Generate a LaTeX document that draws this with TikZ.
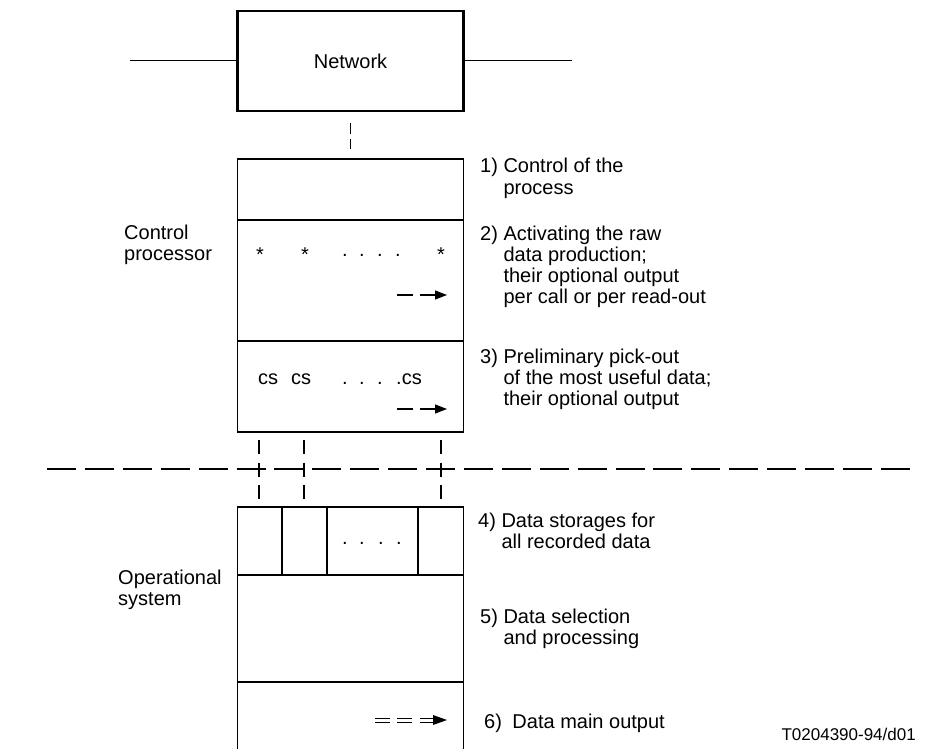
\documentclass[tikz,border=0pt]{standalone}
\usepackage{fontspec}
\setmainfont{Liberation Sans}
\usetikzlibrary{arrows.meta}
\begin{document}
\begin{tikzpicture}[x=1pt,y=-1pt,
  txt/.style={font=\fontsize{20}{21}\selectfont, inner sep=0pt, align=left, anchor=base west},
  glyph/.style={font=\fontsize{20}{21}\selectfont, inner sep=0pt, anchor=base},
  boxline/.style={line width=1.2pt},
  thinline/.style={line width=1pt},
  vdash/.style={line width=1.2pt, dash pattern=on 14pt off 8.5pt},
  sepline/.style={line width=2.8pt, dash pattern=on 29pt off 8.9pt},
  arr/.style={line width=1.2pt, -{Triangle[length=12pt,width=9pt]}},
]
\useasboundingbox (0,0) rectangle (927,749);

% Network
\node[draw, line width=2.4pt, minimum width=226pt, minimum height=100pt, inner sep=0pt,
      font=\fontsize{20}{21}\selectfont] (net) at (350.5,61) {Network};
\coordinate (nl) at (130,61);
\coordinate (nr) at (572,61);
\draw[thinline] (net.west) -- (nl);
\draw[thinline] (net.east) -- (nr);

% Control processor box
\node[draw, boxline, minimum width=226pt, minimum height=273pt, inner sep=0pt] (cp) at (350.5,295.5) {};
\draw[boxline] (237.5,220) -- (463.5,220);
\draw[boxline] (237.5,341) -- (463.5,341);
\draw[boxline, dash pattern=on 11pt off 5pt] ([yshift=-11pt]net.south) -- ([yshift=9pt]cp.north);

% stars and dots
\foreach \x in {260,305,441} \node[glyph] (s\x) at (\x,261) {*};
\foreach \x in {345,362,380,398} \node[glyph] (d\x) at (\x,256) {.};
\draw[boxline] (397,295) -- (413,295);
\draw[arr] (420,295) -- (447,295);

% cs line
\node[txt] (cs1) at (258,384) {cs};
\node[txt] (cs2) at (291,384) {cs};
\foreach \x in {345,362,380} \node[glyph] (e\x) at (\x,384) {.};
\node[txt] (cs3) at (396,384) {.cs};
\draw[boxline] (397,409) -- (413,409);
\draw[arr] (420,409) -- (447,409);

% Operational system box (open at the bottom)
\coordinate (opnw) at (237.5,507);
\coordinate (opne) at (463.5,507);
\draw[boxline] (237.5,760) -- (opnw) -- (opne) -- (463.5,760);
\draw[boxline] (237.5,575) -- (463.5,575);
\draw[boxline] (237.5,682) -- (463.5,682);
\foreach \x in {282,327,418} \draw[boxline] (\x,507) -- (\x,575);
\foreach \x in {345,362,381,399} \node[glyph] (f\x) at (\x,544) {.};

% connectors between the two systems
\foreach \x in {259,304,441} {
  \coordinate (u\x) at (\x,440);
  \coordinate (l\x) at (\x,500);
  \draw[vdash] (u\x) -- (l\x);
}

% separation line
\coordinate (sepl) at (47,469);
\coordinate (sepr) at (911,469);
\draw[sepline] (sepl) -- (sepr);

% double arrow
\foreach \a/\b in {375/390,397/412,420/434} {
  \draw[thinline] (\a,718) -- (\b,718);
  \draw[thinline] (\a,722) -- (\b,722);
}
\fill (433,715) -- (447,720) -- (433,725) -- cycle;

% labels (anchor = baseline of the last line)
\node[txt] (cpl) at (124,260) {Control\\processor};
\node[txt] (opl) at (118,605) {Operational\\system};

\node[txt] (t1) at (480,194) {1) Control of the\\\phantom{1) }process};
\node[txt] (t2) at (480,303) {2) Activating the raw\\\phantom{2) }data production;\\\phantom{2) }their optional output\\\phantom{2) }per call or per read-out};
\node[txt] (t3) at (480,405) {3) Preliminary pick-out\\\phantom{3) }of the most useful data;\\\phantom{3) }their optional output};
\node[txt] (t4) at (478,548) {4) Data storages for\\\phantom{4) }all recorded data};
\node[txt] (t5) at (480,644) {5) Data selection\\\phantom{5) }and processing};
\node[txt] (t6) at (484,728) {6)\hspace{10.5pt}Data main output};
\node[font=\fontsize{17}{20}\selectfont, inner sep=0pt, anchor=base east] (code) at (916,740) {T0204390-94/d01};
\end{tikzpicture}
\end{document}
